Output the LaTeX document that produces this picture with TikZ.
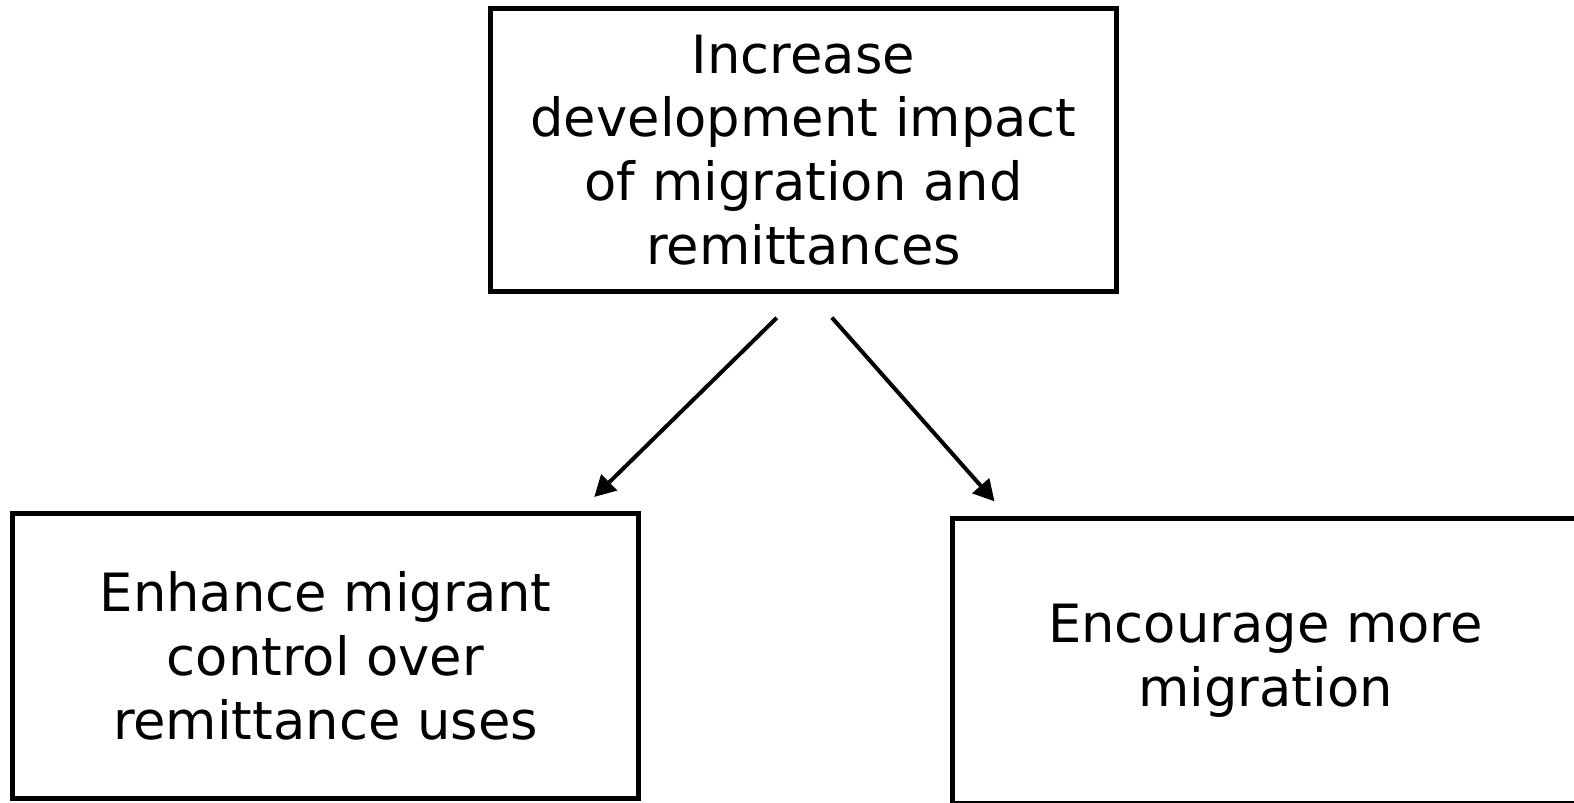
\documentclass[tikz,border=0pt]{standalone}
\usepackage{fontspec}
\setmainfont{DejaVu Sans}
\usetikzlibrary{arrows.meta,positioning}

\begin{document}
\begin{tikzpicture}[ -, node distance = 4.34cm,
                    box/.style = {draw, line width=0.1cm, align=center,
                      minimum width=12.52cm, minimum height=5.7cm,
                      font=\fontsize{30}{36.3}\selectfont},
                    arr/.style = {-{Triangle[length=0.42cm,width=0.44cm]},
                      line width=0.08cm}]
\useasboundingbox (-16.07,3.0) rectangle (15.41,-13.04);
    \node[box, minimum height=5.66cm] (goal) at (0,0)
      {Increase\\development impact\\of migration and\\remittances};
\node[box, below= of goal, xshift=-9.56cm] (control)
      {Enhance migrant\\control over\\remittance uses};
\node[box, below=4.44cm of goal, xshift=9.24cm] (more)
      {Encourage more\\migration};
    \draw[arr, shorten <=0.68cm, shorten >=0.4cm]
      ([xshift=-0.05cm]goal.south) -- ([xshift=-1.22cm]control.north east);
    \draw[arr, shorten <=0.63cm, shorten >=0.39cm]
      ([xshift=0.15cm]goal.south) -- ([xshift=1.15cm]more.north west);
\end{tikzpicture}
\end{document}
